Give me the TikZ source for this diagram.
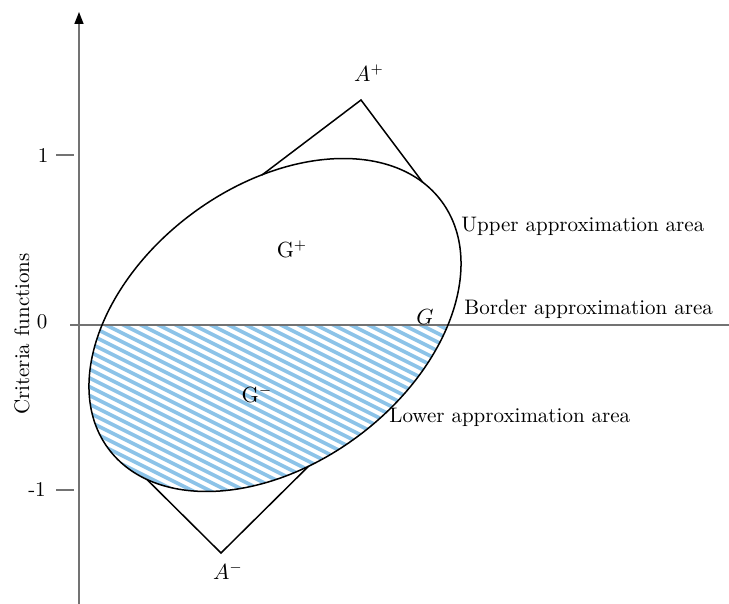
\documentclass[tikz,border=0pt]{standalone}
\usetikzlibrary{arrows.meta}
\definecolor{hatchblue}{RGB}{140,195,232}
\begin{document}
\begin{tikzpicture}[
        x=0.5pt, y=-0.5pt,
        % Achsen etwas heller als die Kurven
        axisline/.style={draw=black!55, line width=0.7pt},
        curve/.style={draw=black, line width=0.75pt},
        % Schraffur der unteren Hälfte
        hatch/.style={draw=hatchblue, line width=1.8pt},
        txt/.style={font=\fontsize{10.5}{12.6}\selectfont, inner sep=0pt}
    ]
    \useasboundingbox (0,0) rectangle (729,604);
    \coordinate (cen) at (275,325);

    % Schraffur, auf Ellipse und untere Halbebene beschränkt
    \begin{scope}
        \clip[rotate around={36.6:(cen)}] (cen) ellipse [x radius=207.5, y radius=138.8];
        \clip (0,325) rectangle (729,604);
        \foreach \s in {-320,-302.5,...,460}
            \draw[hatch] (\s,322) -- ++(560,280);
    \end{scope}

    % Achsen
    \coordinate (yaxbot) at (79,604);
    \coordinate (yaxtop) at (79,12);
    \coordinate (xaxl) at (70,325);
    \coordinate (xaxr) at (729,325);
    \draw[axisline, -{Triangle[length=6pt, width=4.5pt, black]}] (yaxbot) -- (yaxtop);
    \draw[axisline] (xaxl) -- (xaxr);
    \coordinate (tka) at (56,155);
    \coordinate (tkb) at (74,155);
    \coordinate (tkc) at (56,490);
    \coordinate (tkd) at (74,490);
    \draw[axisline] (tka) -- (tkb);
    \draw[axisline] (tkc) -- (tkd);
    \node[txt] (one) at (43,156) {1};
    \node[txt] (zero) at (42,322) {0};
    \node[txt] (minone) at (37,490) {-1};
    \node[txt, rotate=90] (ylab) at (22,334) {Criteria functions};

    % Ellipse G
    \draw[curve, rotate around={36.6:(cen)}] (cen) ellipse [x radius=207.5, y radius=138.8];

    % Ideal- und Anti-Ideal-Punkt
    \coordinate (Ap) at (361,100);
    \coordinate (Am) at (221,553);
    \coordinate (pa) at (262,175);
    \coordinate (pb) at (422.7,182.3);
    \coordinate (ma) at (146.8,479.4);
    \coordinate (mb) at (308.6,466.2);
    \draw[curve] (pa) -- (Ap) -- (pb);
    \draw[curve] (ma) -- (Am) -- (mb);

    \node[txt] (Aplab) at (369,73) {$A^{+}$};
    \node[txt] (Amlab) at (228,571) {$A^{-}$};
    \node[txt] (Gp) at (292,249) {$\mathrm{G}^{+}$};
    \node[txt] (Gm) at (257,394) {$\mathrm{G}^{-}$};
    \node[txt] (Glab) at (425,317) {$G$};
    \node[txt, anchor=west] (upper) at (461,226) {Upper approximation area};
    \node[txt, anchor=west] (border) at (464,309) {Border approximation area};
    \node[txt, anchor=west] (lower) at (389,417) {Lower approximation area};
\end{tikzpicture}
\end{document}
